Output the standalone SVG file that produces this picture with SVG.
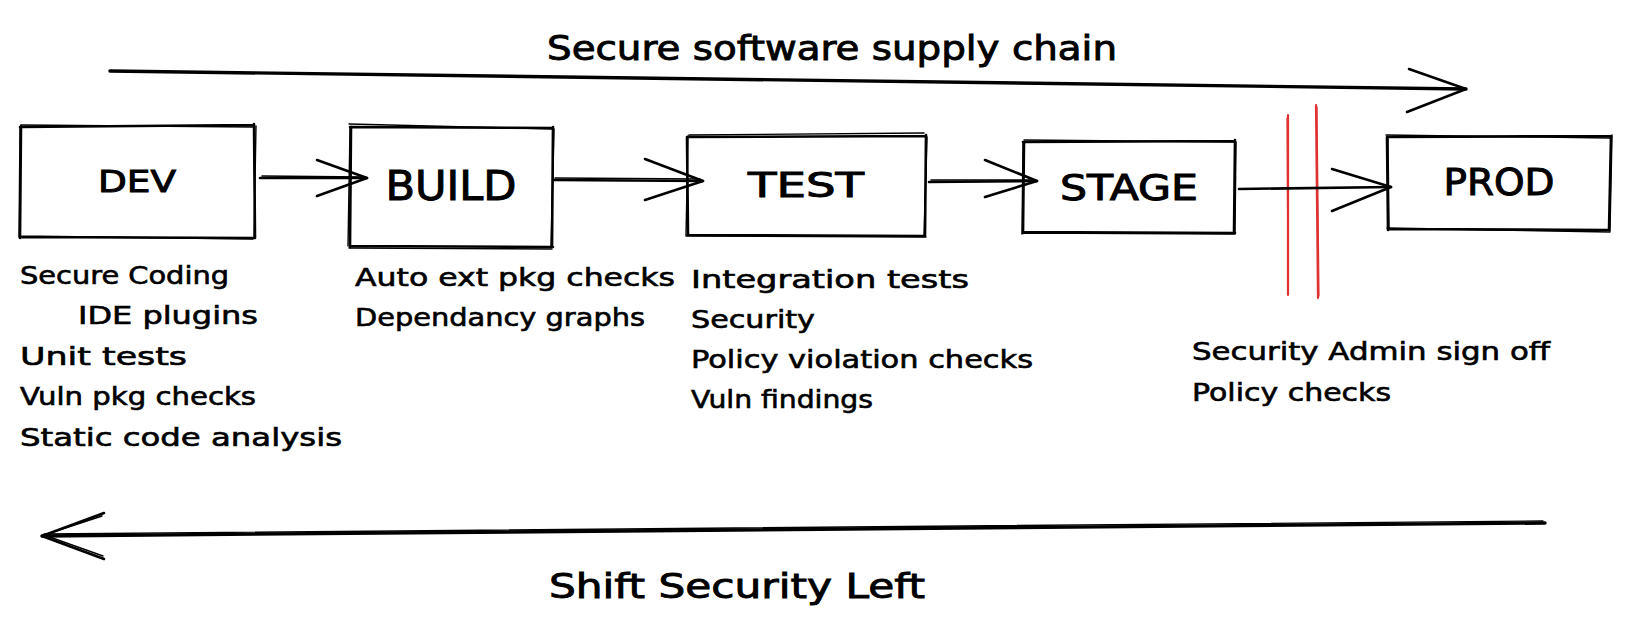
<svg xmlns="http://www.w3.org/2000/svg" width="1629" height="631" viewBox="0 0 1629 631">
<style>
.bg{fill:#ffffff}
.sk{fill:none;stroke:#000000;stroke-width:2.6;stroke-linecap:round;stroke-linejoin:round}
.sk2{fill:none;stroke:#000000;stroke-width:1.4;stroke-linecap:round;stroke-linejoin:round}
.thick{fill:none;stroke:#000000;stroke-width:3.4;stroke-linecap:round;stroke-linejoin:round}
.red{fill:none;stroke:#e03131;stroke-width:2.2;stroke-linecap:round}
.red2{fill:none;stroke:#e03131;stroke-width:1.2;stroke-linecap:round}
text{font-family:"DejaVu Sans","Noto Sans",sans-serif;fill:#000000;stroke:#000000;stroke-width:0.6}
.lbl{text-anchor:middle;stroke-width:1}
.big{font-size:34px;stroke-width:0.9}
.lst{font-size:24px}
</style>
<rect class="bg" x="0" y="0" width="1629" height="631"/>

<g id="title">
<text class="big" x="547" y="60" textLength="570" lengthAdjust="spacingAndGlyphs">Secure software supply chain</text>
</g>

<g id="dev">
<path class="sk" d="M20,127 L254,125 M254,124 L255,238 M255,238 L20,237 M20,238 L21,126"/>
<path class="sk2" d="M21,125 L253,127 M256,126 L254,237 M253,239 L19,236 M19,237 L20,127"/>
<text class="lbl" x="137" y="192" font-size="31" textLength="78" lengthAdjust="spacingAndGlyphs">DEV</text>
</g>

<g id="build">
<path class="sk" d="M350,127 L553,128 M553,127 L552,247 M553,247 L350,246 M350,247 L351,127"/>
<path class="sk2" d="M349,124 L552,129 M554,129 L551,246 M552,249 L349,248 M348,246 L350,128"/>
<text class="lbl" x="451" y="200" font-size="40" textLength="131" lengthAdjust="spacingAndGlyphs">BUILD</text>
</g>

<g id="test">
<path class="sk" d="M687,137 L926,136 M926,135 L925,236 M925,236 L688,235 M688,235 L687,138"/>
<path class="sk2" d="M689,135 L924,133 M927,137 L924,237 M926,237 L687,236 M686,236 L688,136"/>
<text class="lbl" x="806" y="197" font-size="34" textLength="116" lengthAdjust="spacingAndGlyphs">TEST</text>
</g>

<g id="stage">
<path class="sk" d="M1023,142 L1235,141 M1235,140 L1234,233 M1235,233 L1023,232 M1023,233 L1024,142"/>
<path class="sk2" d="M1024,140 L1234,142 M1236,142 L1235,234 M1234,234 L1022,233 M1022,234 L1023,143"/>
<text class="lbl" x="1129" y="200" font-size="35" textLength="138" lengthAdjust="spacingAndGlyphs">STAGE</text>
</g>

<g id="prod">
<path class="sk" d="M1387,137 L1611,136 M1611,136 L1609,230 M1609,230 L1388,229 M1388,230 L1387,137"/>
<path class="sk2" d="M1386,135 L1610,138 M1612,135 L1610,231 M1610,232 L1387,228 M1389,229 L1388,136"/>
<text class="lbl" x="1499" y="195" font-size="37" textLength="111" lengthAdjust="spacingAndGlyphs">PROD</text>
</g>

<g id="gate">
<path class="red" d="M1288,115 L1288,295"/>
<path class="red2" d="M1287,118 L1288,293"/>
<path class="red" d="M1316,105 L1318,298"/>
<path class="red2" d="M1317,107 L1319,296"/>
</g>

<g id="dev-notes" class="lst">
<text x="20" y="284" textLength="209" lengthAdjust="spacingAndGlyphs">Secure Coding</text>
<text x="78" y="324" textLength="180" lengthAdjust="spacingAndGlyphs">IDE plugins</text>
<text x="20" y="365" textLength="167" lengthAdjust="spacingAndGlyphs">Unit tests</text>
<text x="20" y="405" textLength="236" lengthAdjust="spacingAndGlyphs">Vuln pkg checks</text>
<text x="20" y="446" textLength="322" lengthAdjust="spacingAndGlyphs">Static code analysis</text>
</g>

<g id="build-notes" class="lst">
<text x="355" y="286" textLength="320" lengthAdjust="spacingAndGlyphs">Auto ext pkg checks</text>
<text x="355" y="326" textLength="290" lengthAdjust="spacingAndGlyphs">Dependancy graphs</text>
</g>

<g id="test-notes" class="lst">
<text x="691" y="288" textLength="278" lengthAdjust="spacingAndGlyphs">Integration tests</text>
<text x="691" y="328" textLength="124" lengthAdjust="spacingAndGlyphs">Security</text>
<text x="691" y="368" textLength="342" lengthAdjust="spacingAndGlyphs">Policy violation checks</text>
<text x="691" y="408" textLength="182" lengthAdjust="spacingAndGlyphs">Vuln findings</text>
</g>

<g id="prod-notes" class="lst">
<text x="1192" y="360" textLength="358" lengthAdjust="spacingAndGlyphs">Security Admin sign off</text>
<text x="1192" y="401" textLength="199" lengthAdjust="spacingAndGlyphs">Policy checks</text>
</g>

<g id="footer">
<text class="big" x="549" y="598" textLength="376" lengthAdjust="spacingAndGlyphs">Shift Security Left</text>
</g>

<g id="connectors">
<path class="thick" d="M110,71 L1466,89"/>
<path class="sk" d="M1409,69 L1466,89 L1407,112"/>
<path class="sk" d="M260,178 L367,178"/>
<path class="sk2" d="M262,176 L365,177"/>
<path class="sk" d="M317,160 L367,178 L317,196"/>
<path class="sk" d="M553,180 L703,181"/>
<path class="sk2" d="M555,178 L700,179"/>
<path class="sk" d="M645,159 L703,181 L645,200"/>
<path class="sk" d="M929,182 L1037,181"/>
<path class="sk2" d="M931,180 L1035,180"/>
<path class="sk" d="M985,160 L1037,181 L985,197"/>
<path class="sk" d="M1239,189 L1391,187"/>
<path class="sk" d="M1332,169 L1391,187 L1332,211"/>
<path class="thick" d="M1545,523 L42,536"/>
<path class="sk2" d="M1543,521 L44,534"/>
<path class="sk" d="M104,513 L42,536 L104,559"/>
<path class="sk2" d="M102,516 L44,535 L103,556"/>
</g>
</svg>
